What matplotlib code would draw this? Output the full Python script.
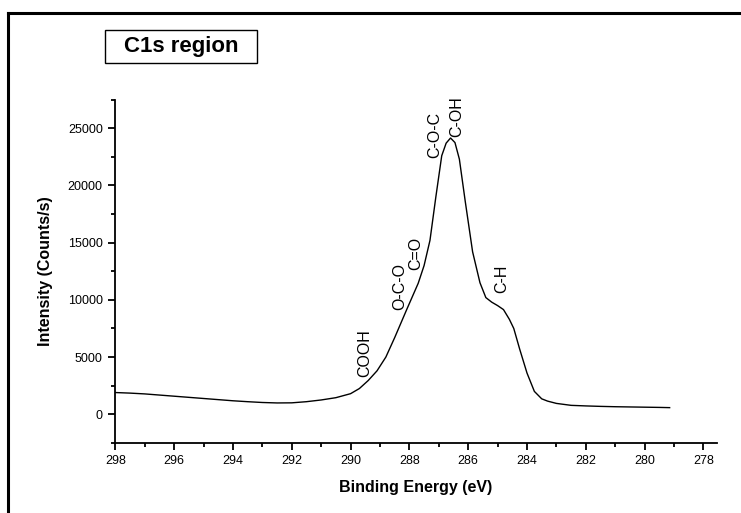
import numpy as np
from matplotlib import pyplot as plt
from matplotlib.lines import Line2D
from matplotlib.patches import Rectangle

plt.rcParams["font.family"] = ["Liberation Sans", "DejaVu Sans"]

# C1s spectrum
energy = [298, 297.5, 297, 296.5, 296, 295.5, 295, 294.5, 294, 293.5, 293, 292.5,
          292, 291.5, 291, 290.5, 290, 289.7, 289.4, 289.1, 288.8, 288.5, 288.1,
          287.7, 287.5, 287.3, 287.1, 286.9, 286.75, 286.6, 286.45, 286.3, 286.1,
          285.85, 285.6, 285.4, 285.2, 285.0, 284.8, 284.6, 284.45, 284.25, 284.0,
          283.75, 283.5, 283.3, 283.0, 282.5, 282, 281.5, 281, 280.5, 280, 279.5,
          279.15]
intensity = [1900, 1850, 1780, 1680, 1580, 1480, 1380, 1280, 1180, 1100, 1030, 990,
             1000, 1100, 1250, 1450, 1800, 2250, 2950, 3800, 5000, 6700, 9100,
             11450, 13000, 15200, 19000, 22600, 23700, 24150, 23750, 22300, 18600,
             14200, 11500, 10200, 9800, 9500, 9150, 8300, 7500, 5700, 3600,
             2000, 1350, 1150, 950, 780, 730, 690, 660, 640, 620, 600,
             580]

peak_labels = ["COOH", "O-C-O", "C=O", "C-O-C", "C-OH", "C-H"]
peak_energy = [289.51, 288.32, 287.78, 287.13, 286.40, 284.87]
peak_height = [3260, 9120, 12610, 22400, 24240, 10600]

x_ticks = list(range(298, 277, -2))
y_ticks = [0, 5000, 10000, 15000, 20000, 25000]

fig = plt.figure(figsize=(7.41, 5.13), dpi=100)
ax = fig.add_axes([0.1556, 0.1367, 0.8116, 0.669])

ax.plot(energy, intensity, color="black", lw=1.0)

for label, e, h in zip(peak_labels, peak_energy, peak_height):
    ax.text(e, h, label, rotation=90, ha="center", va="bottom", fontsize=11.5)

ax.set_xlim(298, 277.55)
ax.set_ylim(-2500, 27500)
ax.set_xticks(x_ticks)
ax.set_xticks(np.arange(297, 277, -2), minor=True)
ax.set_yticks(y_ticks)
ax.set_yticks(np.arange(-2500, 27501, 5000), minor=True)

ax.spines["top"].set_visible(False)
ax.spines["right"].set_visible(False)
ax.spines["left"].set_linewidth(1.3)
ax.spines["bottom"].set_linewidth(1.3)
ax.tick_params(which="major", direction="out", length=5, width=1.3, labelsize=9,
               colors="black", pad=4)
ax.tick_params(which="minor", direction="out", length=3, width=1.3)

ax.set_xlabel("Binding Energy (eV)", fontsize=11.5, fontweight="bold", labelpad=9)
ax.set_ylabel("Intensity (Counts/s)", fontsize=11.5, fontweight="bold", labelpad=11)

# title box
fig.add_artist(Rectangle((105 / 741, 1 - 63 / 513), 152 / 741, 33 / 513,
                         transform=fig.transFigure, fc="white", ec="black", lw=1.0))
fig.text(181 / 741, 1 - 46.5 / 513, "C1s region", fontsize=16, fontweight="bold",
         ha="center", va="center")

# outer frame (right and bottom edges fall outside the picture)
fig.add_artist(Line2D([7.5 / 741, 7.5 / 741], [0, 1 - 13 / 513], color="black", lw=2.2))
fig.add_artist(Line2D([7.5 / 741, 1], [1 - 13 / 513, 1 - 13 / 513], color="black", lw=2.2))

plt.savefig("out.png", dpi=100)
